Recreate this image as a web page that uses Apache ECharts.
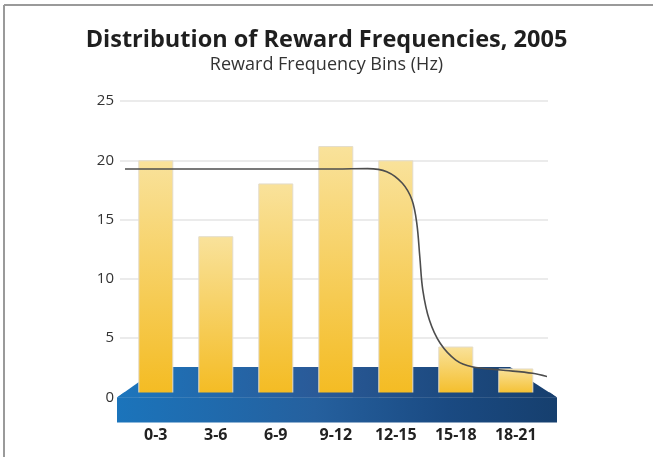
<!DOCTYPE html>
<html>
<head>
<meta charset="utf-8">
<script src="https://cdn.jsdelivr.net/npm/echarts@6/dist/echarts.min.js"></script>
<style>
html,body{margin:0;padding:0;background:#fff;}
#chart{width:653px;height:457px;}
</style>
</head>
<body>
<div id="chart"></div>
<script>
// ---- data ----
var categories = ['0-3', '3-6', '6-9', '9-12', '12-15', '15-18', '18-21'];
var rewardCounts = [20.0, 13.6, 18.05, 21.2, 20.0, 4.3, 2.45];
// fitted curve: x in category-index units, y in counts
var fitX = [-0.61, 1.0, 3.0, 3.53, 3.85, 4.11, 4.27, 4.35, 4.40, 4.45, 4.56, 4.74, 5.0, 5.27, 5.75, 6.28, 6.57];
var fitY = [19.27, 19.27, 19.27, 19.3, 19.04, 18.06, 16.65, 14.69, 11.87, 9.06, 6.53, 4.57, 3.16, 2.6, 2.32, 2.04, 1.7];
var yTicks = { min: 0, max: 25, interval: 5 };
var titleText = 'Distribution of Reward Frequencies, 2005';
var subtitleText = 'Reward Frequency Bins (Hz)';

var fitData = fitX.map(function (x, i) { return [x, fitY[i]]; });

var topFaceFill = { type: 'linear', x: 0, y: 0, x2: 1, y2: 0,
  colorStops: [{ offset: 0, color: '#1c76bd' }, { offset: 0.45, color: '#2a5a98' }, { offset: 0.75, color: '#1d4a80' }, { offset: 1, color: '#173f6e' }] };

var chart = echarts.init(document.getElementById('chart'));
chart.setOption({
  backgroundColor: '#ffffff',
  animation: false,
  title: [
    { text: titleText, left: 'center', top: 23,
      textStyle: { fontFamily: 'Open Sans', fontWeight: 'bold', fontSize: 23.5, color: '#1f1f1f' } },
    { text: subtitleText, left: 'center', top: 51,
      textStyle: { fontFamily: 'Open Sans', fontWeight: 'normal', fontSize: 18, color: '#333333' } }
  ],
  grid: [
    { left: 120, right: 105, top: 101, bottom: 59.5 },
    { left: 125.8, right: 107.2, top: 101, bottom: 59.5 }
  ],
  xAxis: [
    { type: 'value', gridIndex: 0, show: false, min: 0, max: 1 },
    { type: 'category', gridIndex: 1, data: categories,
      axisLine: { show: false }, axisTick: { show: false },
      axisLabel: { margin: 30, fontFamily: 'Open Sans', fontWeight: 'bold', fontSize: 16, color: '#222222' } },
    { type: 'value', gridIndex: 1, show: false, min: -0.5, max: 6.5 }
  ],
  yAxis: [
    { type: 'value', gridIndex: 0, min: yTicks.min, max: yTicks.max, interval: yTicks.interval,
      axisLine: { show: false }, axisTick: { show: false },
      axisLabel: { margin: 6, fontFamily: 'Open Sans', fontSize: 15, color: '#333333' },
      splitLine: { lineStyle: { color: '#e5e5e5', width: 1.5 } } },
    { type: 'value', gridIndex: 1, min: yTicks.min, max: yTicks.max, interval: yTicks.interval,
      show: false, splitLine: { show: false } }
  ],
  graphic: [
    { type: 'line', z: 1, shape: { x1: 4, y1: 5, x2: 653, y2: 5 },
      style: { stroke: '#9a9a9a', lineWidth: 2 } },
    { type: 'line', z: 1, shape: { x1: 4, y1: 5, x2: 4, y2: 457 },
      style: { stroke: '#9a9a9a', lineWidth: 2 } },
    { type: 'polygon', z: 1,
      shape: { points: [[117, 397.5], [160, 367], [510, 367], [557, 397.5]] },
      style: { fill: topFaceFill } },
    // front strip of the top face, drawn over the bar bases
    { type: 'polygon', z: 4,
      shape: { points: [[117, 397.5], [124, 392.6], [550, 392.6], [557, 397.5]] },
      style: { fill: topFaceFill } },
    { type: 'rect', z: 4,
      shape: { x: 117, y: 397.5, width: 440, height: 25 },
      style: { fill: { type: 'linear', x: 0, y: 0, x2: 1, y2: 0,
        colorStops: [{ offset: 0, color: '#1b74bb' }, { offset: 0.45, color: '#25609e' }, { offset: 0.75, color: '#1a4a82' }, { offset: 1, color: '#163f6e' }] } } }
  ],
  series: [
    { type: 'bar', xAxisIndex: 1, yAxisIndex: 1, data: rewardCounts, barWidth: 35, z: 3,
      itemStyle: {
        color: { type: 'linear', x: 0, y: 0, x2: 0, y2: 1,
          colorStops: [{ offset: 0, color: '#f9e29b' }, { offset: 1, color: '#f4bb21' }] },
        borderColor: '#e3dccb', borderWidth: 1
      } },
    { type: 'line', xAxisIndex: 2, yAxisIndex: 1, data: fitData, smooth: 0.35, clip: false,
      showSymbol: false, z: 5,
      lineStyle: { color: '#4d4d4d', width: 1.6 } }
  ]
});
</script>
</body>
</html>
